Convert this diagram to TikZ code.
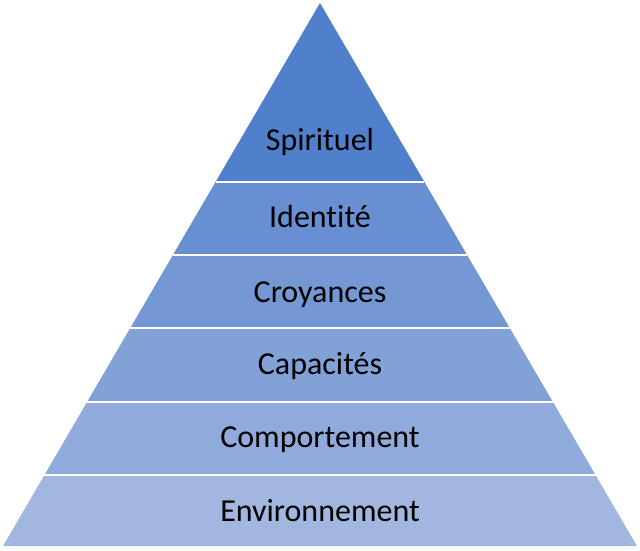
\documentclass[tikz,border=0pt]{standalone}
\usepackage{fontspec}
\setmainfont[Ligatures=NoCommon]{Carlito}
\usetikzlibrary{calc}

\definecolor{topblue}{RGB}{80,128,203}
\definecolor{basblue}{RGB}{162,183,224}

\begin{document}
\begin{tikzpicture}[x=1pt,y=1pt,
    layer/.style={draw=white, line width=1.5pt, line join=miter},
    lvl/.style={font=\fontsize{32}{36}\selectfont, text=black, text height=22pt, text depth=7pt, inner sep=0pt}
]
\useasboundingbox (0,0) rectangle (640,550);
\coordinate (apex) at (320,547);
\coordinate (bl) at (3,4);
\coordinate (br) at (637,4);
% layers, top to bottom: upper edge, lower edge, share of base colour
\foreach \yt/\yb/\pct [count=\i] in {547/368/0, 368/295/28, 295/222/44, 222/148/60, 148/75/78, 75/4/100}{
  \colorlet{lay\i}{basblue!\pct!topblue}
  \fill[lay\i] ($(apex)!{(547-\yt)/543}!(bl)$) -- ($(apex)!{(547-\yb)/543}!(bl)$)
    -- ($(apex)!{(547-\yb)/543}!(br)$) -- ($(apex)!{(547-\yt)/543}!(br)$) -- cycle;
}
% white separators
\foreach \y in {368,295,222,148,75}{
  \draw[layer] ($(apex)!{(547-\y)/543}!(bl)$) -- ($(apex)!{(547-\y)/543}!(br)$);
}
\node[lvl] (spirit) at (320,407) {Spirituel};
\node[lvl] (ident) at (320,330) {Identité};
\node[lvl] (croy) at (320,255) {Croyances};
\node[lvl] (capa) at (320,183) {Capacités};
\node[lvl] (comp) at (320,110) {Comportement};
\node[lvl] (envi) at (320,36) {Environnement};
\end{tikzpicture}
\end{document}
